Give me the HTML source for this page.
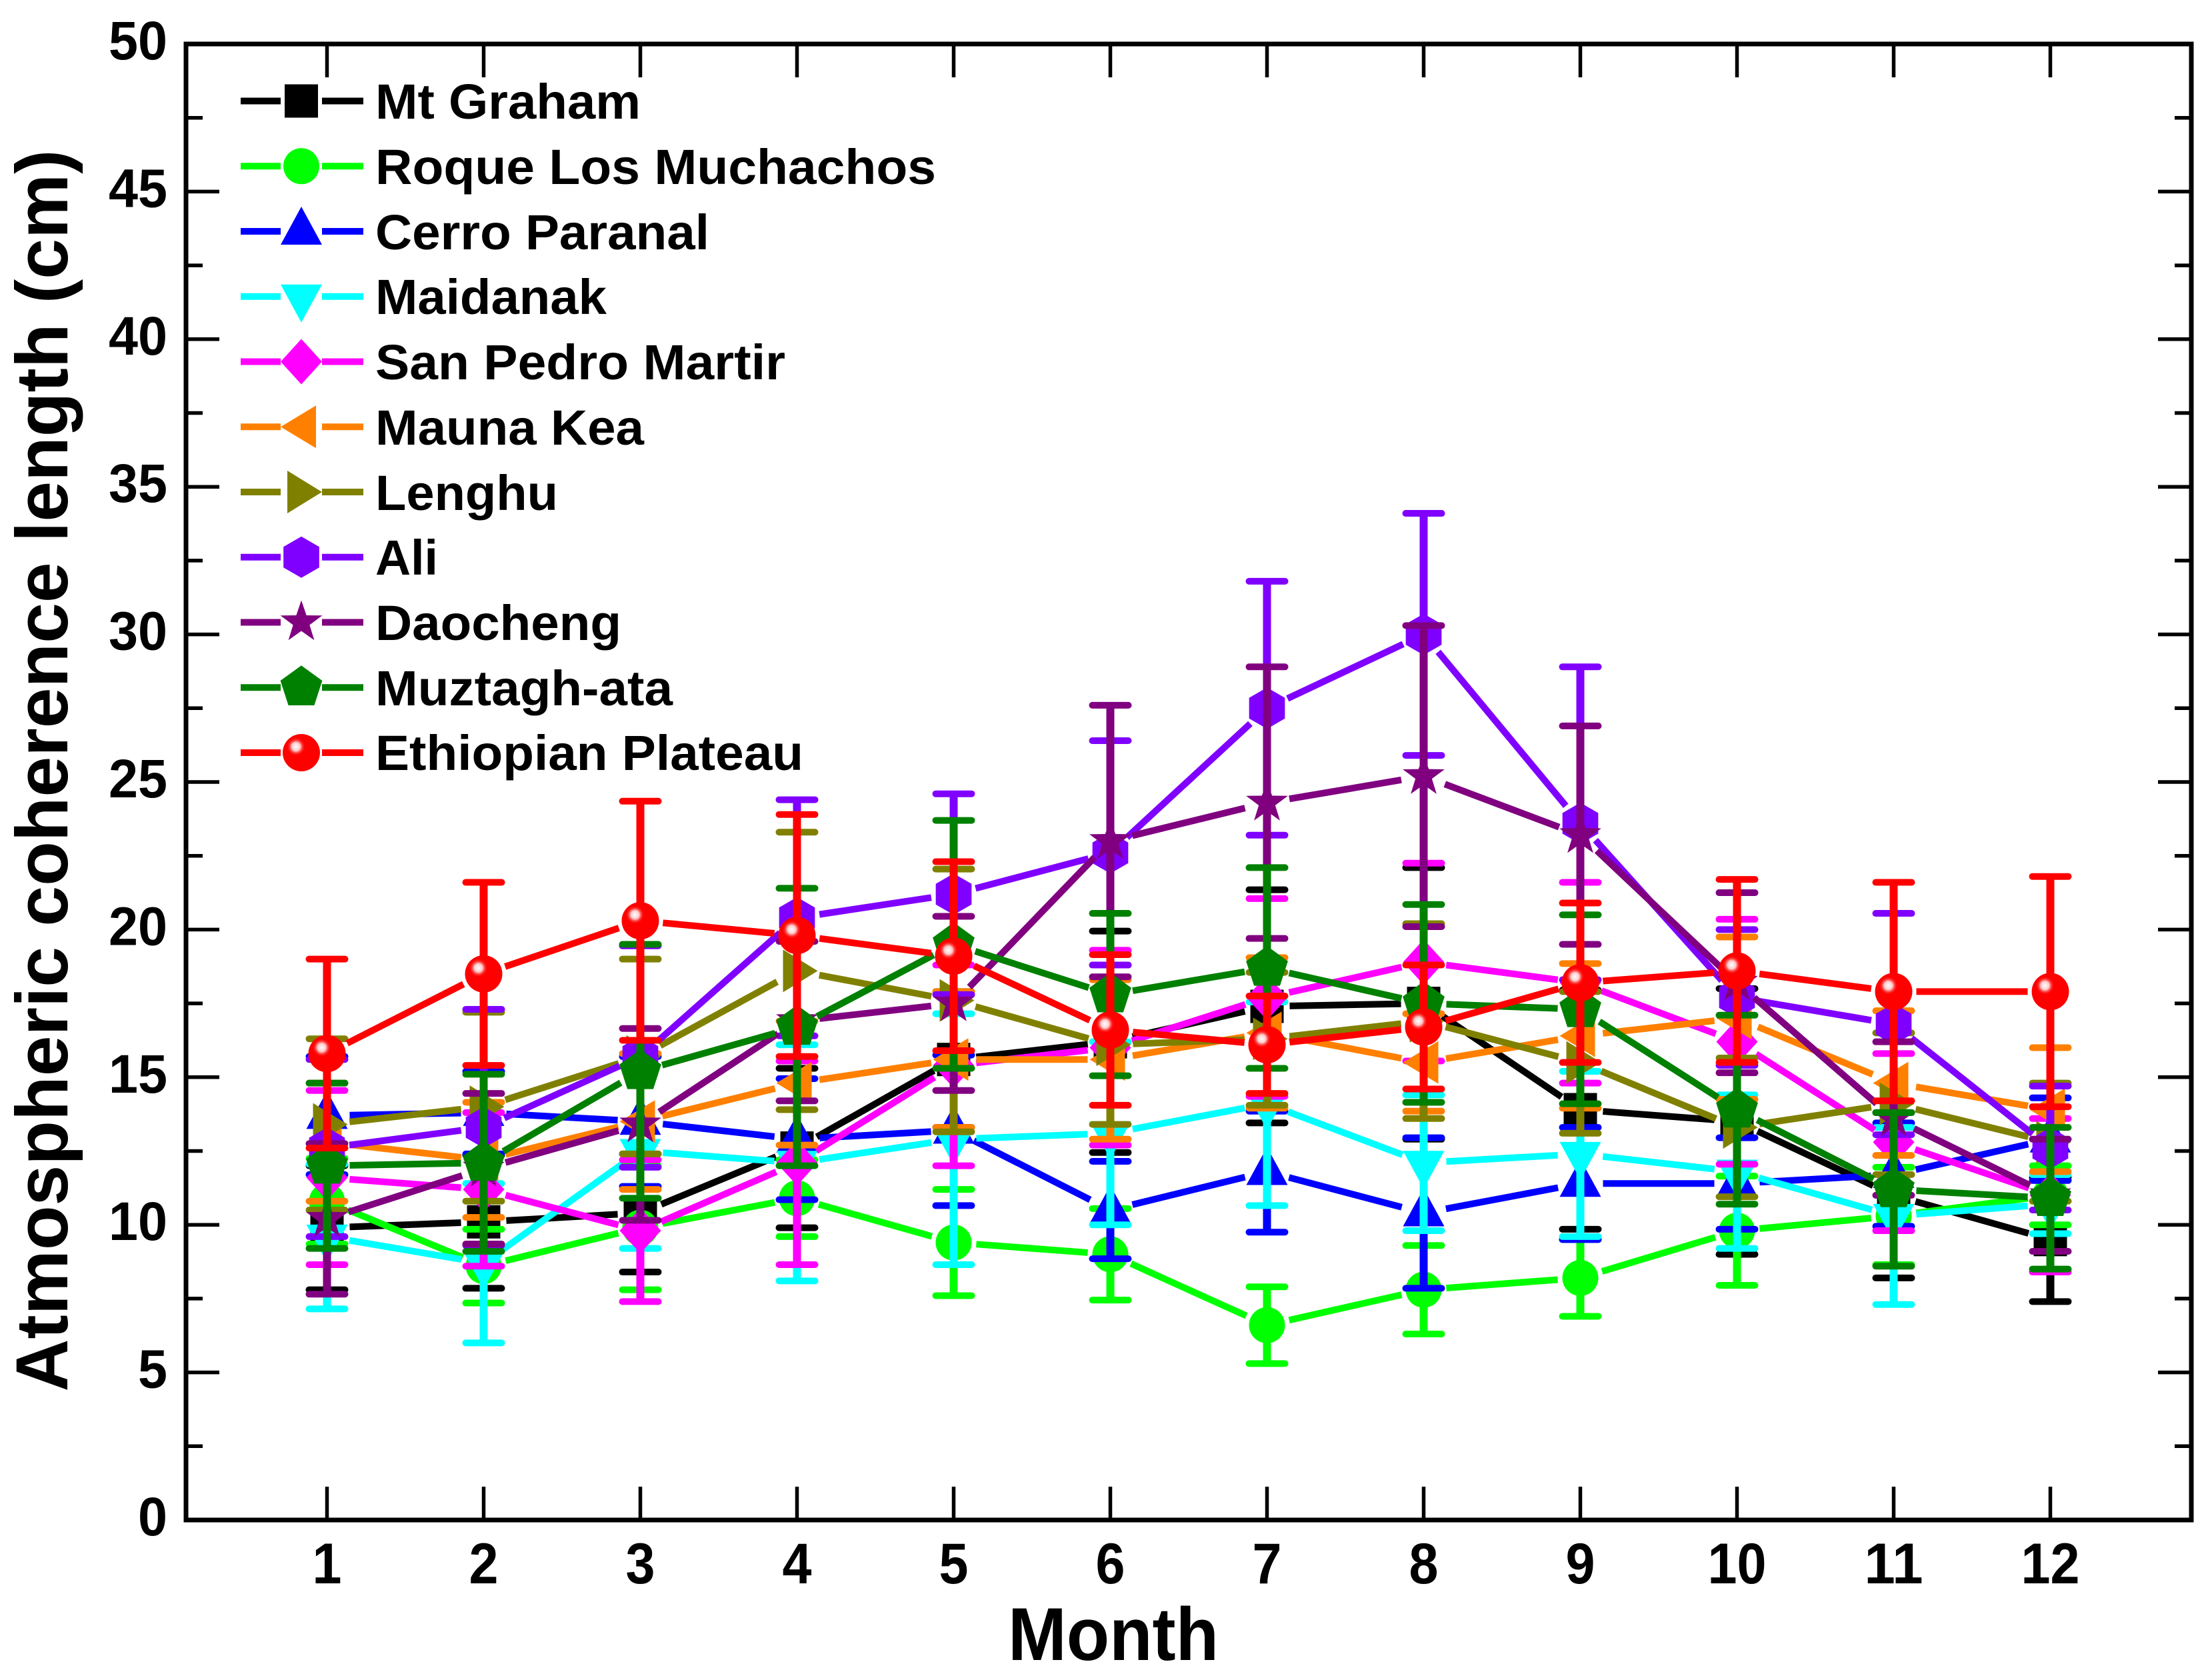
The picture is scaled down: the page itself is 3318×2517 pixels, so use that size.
<!DOCTYPE html>
<html lang="en">
<head>
<meta charset="utf-8">
<title>Atmospheric coherence length by month</title>
<style>
  html, body { margin: 0; padding: 0; background: #fff; }
  svg { display: block; font-family: "Liberation Sans", Arial, sans-serif; font-weight: bold; }
</style>
</head>
<body>
<svg id="chart" xmlns="http://www.w3.org/2000/svg" width="3318" height="2517" viewBox="0 0 3318 2517">
  <defs>
    <radialGradient id="sphere-shine">
      <stop offset="0" stop-color="#ffffff"/>
      <stop offset="0.45" stop-color="#ffc8c8"/>
      <stop offset="1" stop-color="#ff0000" stop-opacity="0"/>
    </radialGradient>
  </defs>
  <rect x="0" y="0" width="3318" height="2517" fill="#ffffff"/>
  <g id="ticks"></g>
  <g id="plot"></g>
  <rect x="279" y="66" width="3008" height="2214" fill="none" stroke="#000" stroke-width="7"/>
  <g id="tick-labels" fill="#000"></g>
  <text transform="translate(101,1156) rotate(-90)" text-anchor="middle" font-size="110" textLength="1863" lengthAdjust="spacingAndGlyphs">Atmospheric coherence length (cm)</text>
  <text x="1670" y="2490" text-anchor="middle" font-size="112" textLength="316" lengthAdjust="spacingAndGlyphs">Month</text>
  <g id="legend" font-size="74" fill="#000">
    <text x="563" y="178" textLength="398" lengthAdjust="spacingAndGlyphs">Mt Graham</text>
    <text x="563" y="276" textLength="841" lengthAdjust="spacingAndGlyphs">Roque Los Muchachos</text>
    <text x="563" y="374" textLength="501" lengthAdjust="spacingAndGlyphs">Cerro Paranal</text>
    <text x="563" y="471" textLength="347" lengthAdjust="spacingAndGlyphs">Maidanak</text>
    <text x="563" y="569" textLength="615" lengthAdjust="spacingAndGlyphs">San Pedro Martir</text>
    <text x="563" y="667" textLength="403" lengthAdjust="spacingAndGlyphs">Mauna Kea</text>
    <text x="563" y="765" textLength="274" lengthAdjust="spacingAndGlyphs">Lenghu</text>
    <text x="563" y="862" textLength="94" lengthAdjust="spacingAndGlyphs">Ali</text>
    <text x="563" y="960" textLength="369" lengthAdjust="spacingAndGlyphs">Daocheng</text>
    <text x="563" y="1058" textLength="446" lengthAdjust="spacingAndGlyphs">Muztagh-ata</text>
    <text x="563" y="1155" textLength="642" lengthAdjust="spacingAndGlyphs">Ethiopian Plateau</text>
  </g>
</svg>
<script>
const months = [1, 2, 3, 4, 5, 6, 7, 8, 9, 10, 11, 12];
const yTickLabels = [0, 5, 10, 15, 20, 25, 30, 35, 40, 45, 50];

const mtGrahamMeans = [9.9, 10.1, 10.4, 12.6, 15.6, 16.2, 17.4, 17.5, 13.9, 13.5, 11.0, 9.5];
const mtGrahamErrors = [2.1, 2.25, 2.0, 2.7, 2.3, 3.75, 3.95, 4.6, 4.05, 4.5, 2.8, 2.1];
const roqueMeans = [10.8, 8.6, 9.9, 10.9, 9.4, 9.0, 6.6, 7.8, 8.2, 9.8, 10.3, 11.0];
const roqueErrors = [1.45, 1.25, 2.1, 1.3, 1.8, 1.55, 1.3, 1.5, 1.3, 1.85, 1.65, 1.0];
const paranalMeans = [13.7, 13.8, 13.5, 12.9, 13.2, 10.5, 11.8, 10.4, 11.4, 11.4, 11.7, 12.9];
const paranalErrors = [2.0, 1.4, 2.2, 2.05, 2.55, 1.65, 2.05, 2.55, 1.9, 1.55, 1.75, 1.4];
const maidanakMeans = [9.6, 8.7, 12.5, 12.1, 12.9, 13.1, 14.1, 12.1, 12.4, 11.8, 10.3, 10.7];
const maidanakErrors = [2.45, 2.7, 3.3, 4.0, 4.25, 3.1, 3.45, 2.3, 2.8, 2.6, 3.0, 1.0];
const sanPedroMeans = [11.6, 11.2, 9.8, 12.1, 15.4, 16.0, 17.7, 18.9, 18.2, 16.2, 12.8, 11.0];
const sanPedroErrors = [2.95, 2.6, 2.4, 3.45, 3.4, 3.3, 3.35, 3.35, 3.4, 4.15, 3.0, 2.6];
const maunaKeaMeans = [12.8, 12.2, 13.5, 14.8, 15.6, 15.6, 16.5, 15.5, 16.4, 17.0, 14.8, 13.9];
const maunaKeaErrors = [2.0, 1.95, 2.3, 2.1, 2.3, 2.7, 2.55, 1.65, 2.45, 2.75, 2.45, 2.1];
const lenghuMeans = [13.4, 14.0, 15.7, 18.6, 17.6, 16.1, 16.3, 16.9, 15.5, 13.3, 14.1, 12.8];
const lenghuErrors = [2.9, 3.2, 3.3, 4.7, 4.45, 2.7, 2.25, 3.3, 2.4, 2.35, 2.4, 2.0];
const aliMeans = [12.6, 13.3, 15.7, 20.4, 21.2, 22.6, 27.5, 30.0, 23.6, 17.7, 16.8, 12.6];
const aliErrors = [3.0, 4.0, 3.75, 4.0, 3.4, 3.8, 4.3, 4.1, 5.3, 2.3, 3.75, 2.1];
const daochengMeans = [10.2, 11.9, 13.4, 16.9, 17.5, 23.0, 24.3, 25.2, 23.2, 18.2, 13.6, 11.0];
const daochengErrors = [2.55, 2.55, 3.25, 2.7, 2.95, 4.6, 4.6, 5.1, 3.7, 3.05, 2.6, 1.9];
const muztaghMeans = [12.0, 12.1, 15.2, 16.7, 19.5, 17.8, 18.7, 17.5, 17.3, 13.9, 11.2, 10.9];
const muztaghErrors = [2.8, 3.0, 4.3, 4.7, 4.2, 2.75, 3.4, 3.35, 3.2, 3.2, 2.6, 2.4];
const ethiopianMeans = [15.8, 18.5, 20.3, 19.8, 19.1, 16.6, 16.1, 16.7, 18.2, 18.6, 17.9, 17.9];
const ethiopianErrors = [3.2, 3.1, 4.05, 4.1, 3.2, 2.55, 1.65, 2.1, 2.7, 3.1, 3.7, 3.9];

const seriesList = [
  { key: 'mt-graham', color: '#000000', shape: 'square', means: mtGrahamMeans, errors: mtGrahamErrors },
  { key: 'roque-los-muchachos', color: '#00ff00', shape: 'circle', means: roqueMeans, errors: roqueErrors },
  { key: 'cerro-paranal', color: '#0000ff', shape: 'triangle-up', means: paranalMeans, errors: paranalErrors },
  { key: 'maidanak', color: '#00ffff', shape: 'triangle-down', means: maidanakMeans, errors: maidanakErrors },
  { key: 'san-pedro-martir', color: '#ff00ff', shape: 'diamond', means: sanPedroMeans, errors: sanPedroErrors },
  { key: 'mauna-kea', color: '#ff8000', shape: 'triangle-left', means: maunaKeaMeans, errors: maunaKeaErrors },
  { key: 'lenghu', color: '#808000', shape: 'triangle-right', means: lenghuMeans, errors: lenghuErrors },
  { key: 'ali', color: '#8000ff', shape: 'hexagon', means: aliMeans, errors: aliErrors },
  { key: 'daocheng', color: '#800080', shape: 'star', means: daochengMeans, errors: daochengErrors },
  { key: 'muztagh-ata', color: '#008000', shape: 'pentagon', means: muztaghMeans, errors: muztaghErrors },
  { key: 'ethiopian-plateau', color: '#ff0000', shape: 'sphere', means: ethiopianMeans, errors: ethiopianErrors }
];

const NS = 'http://www.w3.org/2000/svg';
const PLOT = { left: 279, right: 3287, top: 66, bottom: 2280 };
const X_DOMAIN = [0.1, 12.9];
const Y_DOMAIN = [0, 50];

function xScale(month) {
  return PLOT.left + (month - X_DOMAIN[0]) / (X_DOMAIN[1] - X_DOMAIN[0]) * (PLOT.right - PLOT.left);
}
function yScale(value) {
  return PLOT.bottom - (value - Y_DOMAIN[0]) / (Y_DOMAIN[1] - Y_DOMAIN[0]) * (PLOT.bottom - PLOT.top);
}

function svgEl(tag, attrs, parent) {
  const el = document.createElementNS(NS, tag);
  for (const k in attrs) el.setAttribute(k, attrs[k]);
  parent.appendChild(el);
  return el;
}

function strokeLine(x1, y1, x2, y2, color, width, cap, parent, name) {
  const el = svgEl('line', { x1: x1, y1: y1, x2: x2, y2: y2, stroke: color, 'stroke-width': width, 'stroke-linecap': cap }, parent);
  
  
  return el;
}

function polyPoints(cx, cy, pts) {
  return pts.map(function (p) { return (cx + p[0]) + ',' + (cy + p[1]); }).join(' ');
}

function regularPoints(n, r, innerR) {
  const pts = [];
  const count = innerR ? n * 2 : n;
  for (let i = 0; i < count; i++) {
    const a = -Math.PI / 2 + i * 2 * Math.PI / count;
    const rad = innerR && i % 2 ? innerR : r;
    pts.push([rad * Math.cos(a), rad * Math.sin(a)]);
  }
  return pts;
}

const SHAPE_POINTS = {
  'triangle-up': [[0, -37], [31, 20], [-31, 20]],
  'triangle-down': [[-31, -18], [31, -18], [0, 39]],
  'triangle-left': [[-31, 0], [22, -32], [22, 32]],
  'triangle-right': [[-21, -32], [31, 0], [-21, 32]],
  'diamond': [[0, -34], [31, 0], [0, 34], [-31, 0]],
  'hexagon': regularPoints(6, 31),
  'pentagon': regularPoints(5, 33),
  'star': regularPoints(5, 33, 13)
};

function drawMarker(shape, cx, cy, color, parent, name) {
  const g = svgEl('g', {}, parent);
  
  
  if (shape === 'square') {
    svgEl('rect', { x: cx - 25, y: cy - 25, width: 50, height: 50, fill: color }, g);
  } else if (shape === 'circle') {
    svgEl('ellipse', { cx: cx, cy: cy, rx: 27, ry: 27, fill: color }, g);
  } else if (shape === 'sphere') {
    svgEl('circle', { cx: cx, cy: cy, r: 28, fill: color }, g);
    svgEl('circle', { cx: cx - 8, cy: cy - 9, r: 14, fill: 'url(#sphere-shine)' }, g);
  } else {
    svgEl('polygon', { points: polyPoints(cx, cy, SHAPE_POINTS[shape]), fill: color }, g);
  }
  return g;
}

function drawErrorBar(month, mean, err, color, parent, key) {
  const x = xScale(month);
  const yHi = yScale(mean + err);
  const yLo = yScale(mean - err);
  strokeLine(x, yHi, x, yLo, color, 12, 'butt', parent, key + '-error-bar-month-' + month);
  strokeLine(x - 27, yHi, x + 27, yHi, color, 10, 'round', parent, key + '-error-cap-upper-month-' + month);
  strokeLine(x - 27, yLo, x + 27, yLo, color, 10, 'round', parent, key + '-error-cap-lower-month-' + month);
}

function drawSegment(m1, v1, m2, v2, color, parent, key) {
  const x1 = xScale(m1), y1 = yScale(v1), x2 = xScale(m2), y2 = yScale(v2);
  const dx = x2 - x1, dy = y2 - y1;
  const len = Math.sqrt(dx * dx + dy * dy);
  const gap = 34;
  if (len <= gap * 2) return;
  const ux = dx / len, uy = dy / len;
  strokeLine(x1 + ux * gap, y1 + uy * gap, x2 - ux * gap, y2 - uy * gap, color, 10, 'butt', parent, key + '-line-segment-' + m1);
}

function drawTicks() {
  const t = document.getElementById('ticks');
  const major = 50, minor = 25, w = 5.5;
  months.forEach(function (m) {
    const x = xScale(m);
    strokeLine(x, PLOT.bottom, x, PLOT.bottom - major, '#000', w, 'butt', t, 'x-tick-bottom-' + m);
    strokeLine(x, PLOT.top, x, PLOT.top + major, '#000', w, 'butt', t, 'x-tick-top-' + m);
  });
  yTickLabels.forEach(function (v, i) {
    const y = yScale(v);
    strokeLine(PLOT.left, y, PLOT.left + major, y, '#000', w, 'butt', t, 'y-tick-left-' + v);
    strokeLine(PLOT.right, y, PLOT.right - major, y, '#000', w, 'butt', t, 'y-tick-right-' + v);
    if (i < yTickLabels.length - 1) {
      const ym = yScale((v + yTickLabels[i + 1]) / 2);
      strokeLine(PLOT.left, ym, PLOT.left + minor, ym, '#000', w, 'butt', t, 'y-minor-tick-left-' + v);
      strokeLine(PLOT.right, ym, PLOT.right - minor, ym, '#000', w, 'butt', t, 'y-minor-tick-right-' + v);
    }
  });
}

function drawTickLabels() {
  const g = document.getElementById('tick-labels');
  const perChar = 44;
  yTickLabels.forEach(function (v) {
    const s = String(v);
    const el = svgEl('text', { x: 251, y: yScale(v) + 23, 'text-anchor': 'end', 'font-size': 82, textLength: s.length * perChar, lengthAdjust: 'spacingAndGlyphs' }, g);
    
    
    el.textContent = s;
  });
  months.forEach(function (m) {
    const s = String(m);
    const el = svgEl('text', { x: xScale(m), y: 2375, 'text-anchor': 'middle', 'font-size': 86, textLength: s.length * perChar, lengthAdjust: 'spacingAndGlyphs' }, g);
    
    
    el.textContent = s;
  });
}

function drawSeries() {
  const plot = document.getElementById('plot');
  seriesList.forEach(function (s) {
    const g = svgEl('g', {}, plot);
    
    
    months.forEach(function (m, i) {
      drawErrorBar(m, s.means[i], s.errors[i], s.color, g, s.key);
    });
    months.forEach(function (m, i) {
      if (i < months.length - 1) {
        drawSegment(m, s.means[i], months[i + 1], s.means[i + 1], s.color, g, s.key);
      }
    });
    months.forEach(function (m, i) {
      drawMarker(s.shape, xScale(m), yScale(s.means[i]), s.color, g, s.key + '-marker-month-' + m);
    });
  });
}

function drawLegendSymbols() {
  const legend = document.getElementById('legend');
  seriesList.forEach(function (s, i) {
    const y = 151.5 + i * 97.75;
    const g = svgEl('g', {}, legend);
    
    
    strokeLine(361, y, 421, y, s.color, 10, 'butt', g, 'legend-line-left-' + s.key);
    strokeLine(483, y, 545, y, s.color, 10, 'butt', g, 'legend-line-right-' + s.key);
    drawMarker(s.shape, 452, y, s.color, g, 'legend-marker-' + s.key);
  });
}

drawTicks();
drawSeries();
drawTickLabels();
drawLegendSymbols();
</script>
</body>
</html>
